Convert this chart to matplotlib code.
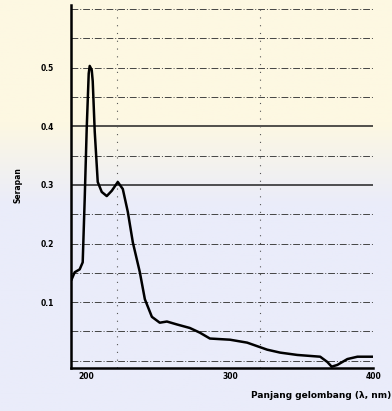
import numpy as np
import matplotlib
matplotlib.use('Agg')
import matplotlib.pyplot as plt

# spectrum (wavelength nm, absorbance)
wl = [189.5, 191.6, 195.1, 197.2, 198.6, 200.0, 201.4, 202.1, 203.5, 204.2,
      205.6, 207.7, 210.5, 214.0, 217.5, 221.7, 225.2, 228.7, 232.2, 237.1,
      240.6, 245.5, 251.0, 256.0, 263.0, 272.0, 279.0, 286.0, 300.0, 312.0,
      326.0, 335.0, 347.0, 363.0, 368.0, 371.0, 375.0, 382.0, 389.0, 399.0]
absb = [0.139, 0.151, 0.156, 0.168, 0.276, 0.396, 0.490, 0.503, 0.496, 0.477,
        0.391, 0.305, 0.288, 0.281, 0.290, 0.305, 0.293, 0.254, 0.202, 0.151,
        0.105, 0.075, 0.065, 0.067, 0.062, 0.056, 0.048, 0.038, 0.036, 0.031,
        0.019, 0.014, 0.010, 0.007, -0.002, -0.010, -0.007, 0.003, 0.007, 0.007]

xticks = [200, 300, 400]
yticks = [0.1, 0.2, 0.3, 0.4, 0.5]
ylabels = ['0.1', '0.2', '0.3', '0.4', '0.5']

fig = plt.figure(figsize=(3.92, 4.11), dpi=100)

# scanned paper tint
bg = fig.add_axes([0, 0, 1, 1], zorder=-10)
g = np.linspace(0, 1, 200)
c_top = np.array([253, 248, 226]) / 255.0
c_mid = np.array([234, 236, 250]) / 255.0
w = np.clip((g - 0.30) / 0.20, 0, 1)[:, None]
img = (c_top * (1 - w) + c_mid * w)[:, None, :]
bg.imshow(img, aspect='auto', extent=[0, 1, 0, 1])
bg.axis('off')

ax = fig.add_axes([0.181, 0.105, 0.771, 0.883])
ax.patch.set_alpha(0)

# grid lines as on the printed chart
for yv in np.arange(0.0, 0.61, 0.05):
    if abs(yv - 0.3) < 1e-6 or abs(yv - 0.4) < 1e-6:
        ax.axhline(yv, color='#222222', lw=1.1, zorder=1)
    else:
        ax.axhline(yv, color='#444444', lw=0.7, ls=(0, (7, 2, 1, 2)), zorder=1)
for xv in [221, 321]:
    ax.axvline(xv, color='#555555', lw=0.8, ls=(0, (1, 6)), zorder=1)

ax.plot(wl, absb, color='black', lw=1.8, zorder=3)

ax.set_xlim(189, 400)
ax.set_ylim(-0.012, 0.607)
ax.set_xticks(xticks)
ax.set_xticklabels([str(t) for t in xticks], fontsize=5.5, fontweight='bold')
ax.set_yticks(yticks)
ax.set_yticklabels(ylabels, fontsize=5.5, fontweight='bold')
ax.tick_params(length=0, pad=12)
ax.tick_params(axis='x', pad=3)

for s in ['top', 'right']:
    ax.spines[s].set_visible(False)
for s in ['left', 'bottom']:
    ax.spines[s].set_linewidth(1.8)

fig.text(0.045, 0.55, 'Serapan', rotation=90, fontsize=5.5, fontweight='bold',
         ha='center', va='center')
fig.text(0.998, 0.038, 'Panjang gelombang (λ, nm)', fontsize=6.5,
         fontweight='bold', ha='right', va='center')

plt.savefig('out.png', dpi=100)
